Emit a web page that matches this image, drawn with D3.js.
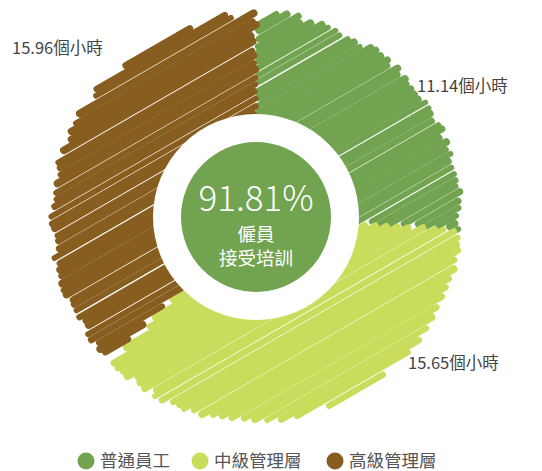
<!DOCTYPE html>
<html><head><meta charset="utf-8">
<script src="https://cdn.jsdelivr.net/npm/d3@7"></script>
<style>
html,body{margin:0;padding:0;background:#fff;}
svg{display:block;font-family:"Noto Sans CJK TC","Noto Sans",sans-serif;}
</style></head>
<body>
<svg id="chart" width="542" height="471"></svg>
<script>
// ---- data ----
const categories = ["普通員工", "中級管理層", "高級管理層"];
const hours = [11.14, 15.65, 15.96];
const hourLabels = ["11.14個小時", "15.65個小時", "15.96個小時"];
const colors = ["#72a350", "#c9dc5b", "#875e1f"];
const centerValue = "91.81%";
const centerLines = ["僱員", "接受培訓"];

// ---- layout ----
const W = 542, H = 471;
const cx = 256, cy = 217;
const rOuter = 206, rRing = 103, rDisc = 75;
const labelPos = [[417, 92], [408, 369], [12, 54]];
const legendX = [86, 200, 335], legendY = 461;

const svg = d3.select("#chart");
const g = svg.append("g").attr("transform", `translate(${cx},${cy})`);

const arcs = d3.pie().sort(null).value(d => d)(hours);

// deterministic jitter for the hand-drawn hatching
function jit(i) { const x = Math.sin(i * 12.9898 + 78.233) * 43758.5453; return x - Math.floor(x); }

const phi = 30 * Math.PI / 180;
const ux = Math.cos(phi), uy = -Math.sin(phi);
const nx = Math.sin(phi), ny = Math.cos(phi);
const TAU = Math.PI * 2;

arcs.forEach((a, k) => {
  const grp = g.append("g").attr("class", "slice");
  const pad = 0.01;
  const a0 = a.startAngle + pad, a1 = a.endAngle - pad;
  let idx = 0;
  for (let t = -rOuter - 10; t <= rOuter + 10; t += 6.3) {
    idx++;
    const seed = k * 1000 + idx;
    const off = t + (jit(seed) - 0.5) * 1.8;
    const w = 5.6 + jit(seed + 0.37) * 2.4;
    const rEdge = rOuter - w / 2 + (jit(seed + 0.71) - 0.5) * 7;
    const aj0 = a0 + (jit(seed + 0.13) - 0.5) * 0.03;
    const aj1 = a1 + (jit(seed + 0.57) - 0.5) * 0.03;
    let run = null;
    const runs = [];
    for (let s = -rOuter - 10; s <= rOuter + 10; s += 1) {
      const x = nx * off + ux * s, y = ny * off + uy * s;
      const r = Math.hypot(x, y);
      let ang = Math.atan2(x, -y); if (ang < 0) ang += TAU;
      const inside = r <= rEdge && r >= rRing - 10 && ang >= aj0 && ang <= aj1;
      if (inside) { if (!run) run = [s, s]; else run[1] = s; }
      else if (run) { runs.push(run); run = null; }
    }
    if (run) runs.push(run);
    runs.forEach(([s0, s1]) => {
      grp.append("line")
        .attr("x1", nx * off + ux * s0).attr("y1", ny * off + uy * s0)
        .attr("x2", nx * off + ux * s1).attr("y2", ny * off + uy * s1)
        .attr("stroke", colors[k])
        .attr("stroke-width", w)
        .attr("stroke-linecap", "round");
    });
  }
});

// white ring and centre disc
g.append("circle").attr("r", rRing).attr("fill", "#fff");
g.append("circle").attr("r", rDisc).attr("fill", colors[0]);

g.append("text").attr("x", 0).attr("y", -6).attr("text-anchor", "middle")
  .attr("fill", "#fff").attr("font-size", 35).attr("font-weight", 300)
  .text(centerValue);
centerLines.forEach((t, i) => {
  g.append("text").attr("x", 0).attr("y", 24 + i * 23.5).attr("text-anchor", "middle")
    .attr("fill", "#fff").attr("font-size", 18.5)
    .text(t);
});

// value labels
hourLabels.forEach((t, i) => {
  svg.append("text").attr("x", labelPos[i][0]).attr("y", labelPos[i][1])
    .attr("fill", "#444").attr("font-size", 16.5)
    .text(t);
});

// legend
categories.forEach((c, i) => {
  svg.append("circle").attr("cx", legendX[i]).attr("cy", legendY).attr("r", 8.5).attr("fill", colors[i]);
  svg.append("text").attr("x", legendX[i] + 14).attr("y", legendY + 5.5)
    .attr("fill", "#555").attr("font-size", 17.5)
    .text(c);
});
</script>
</body></html>
